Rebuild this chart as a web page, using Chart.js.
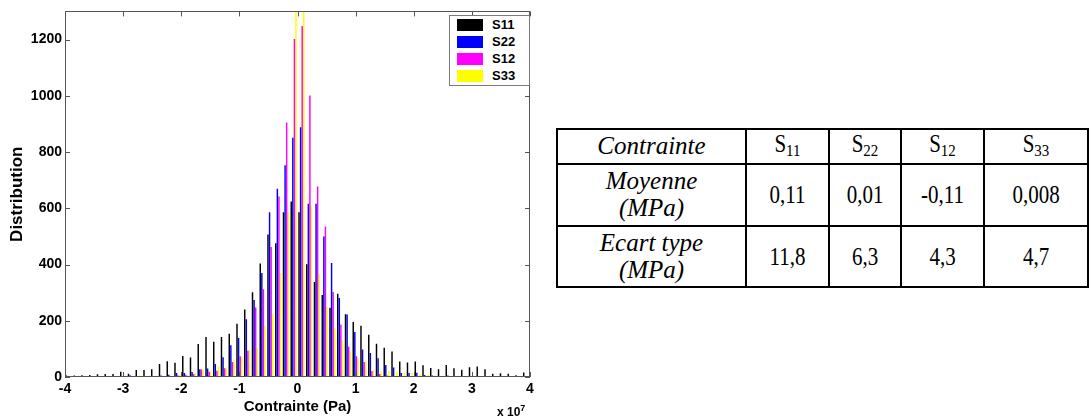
<!DOCTYPE html>
<html>
<head>
<meta charset="utf-8">
<script src="https://cdn.jsdelivr.net/npm/chart.js@4.4.1/dist/chart.umd.min.js"></script>
<style>
  body { margin: 0; background: #fff; width: 1091px; height: 419px; position: relative; overflow: hidden; font-family: "Liberation Sans", Arial, sans-serif; }
  #chart-box { position: absolute; left: 0; top: 0; width: 545px; height: 419px; }
  #legend { position: absolute; left: 449px; top: 15px; width: 81px; height: 71px; border: 1px solid #7a7a7a; background: #fff; box-sizing: border-box; }
  .legend-row { position: absolute; left: 7px; height: 12px; }
  .legend-row .swatch { position: absolute; left: 0; top: 0; width: 26px; height: 12px; }
  .legend-row .label { position: absolute; left: 35px; top: -2px; font: bold 13px "Liberation Sans", Arial, sans-serif; white-space: nowrap; }
  #exponent { position: absolute; left: 497px; top: 403px; font: bold 12px "Liberation Sans", Arial, sans-serif; white-space: nowrap; }
  #exponent sup { font-size: 9px; vertical-align: 5px; }
  #stats { position: absolute; left: 556px; top: 128px; width: 531px; border-collapse: collapse; table-layout: fixed; font-family: "Liberation Serif", "Times New Roman", serif; font-size: 21px; color: #000; }
  #stats td { border: 2px solid #000; text-align: center; padding: 0; line-height: 26px; }
  #stats td i { font-size: 25px; }
  #stats td .num { display: inline-block; transform: scaleY(1.15); }
  #stats sub { font-size: 15px; vertical-align: -4px; }
</style>
</head>
<body>
<div id="chart-box"><canvas id="histChart"></canvas></div>
<div id="legend"></div>
<div id="exponent">x 10<sup>7</sup></div>
<table id="stats">
  <colgroup><col style="width:189px"><col style="width:83px"><col style="width:72px"><col style="width:83px"><col style="width:104px"></colgroup>
</table>
<script>
// bin centres (x 10^7 Pa), 60 bins from -4 to 4
const binCenters = [
  -3.933, -3.800, -3.667, -3.533, -3.400, -3.267, -3.133, -3.000, -2.867, -2.733,
  -2.600, -2.467, -2.333, -2.200, -2.067, -1.933, -1.800, -1.667, -1.533, -1.400,
  -1.267, -1.133, -1.000, -0.867, -0.733, -0.600, -0.467, -0.333, -0.200, -0.067,
   0.067,  0.200,  0.333,  0.467,  0.600,  0.733,  0.867,  1.000,  1.133,  1.267,
   1.400,  1.533,  1.667,  1.800,  1.933,  2.067,  2.200,  2.333,  2.467,  2.600,
   2.733,  2.867,  3.000,  3.133,  3.267,  3.400,  3.533,  3.667,  3.800,  3.933
];

const s11 = [
  5, 5, 6, 7, 10, 11, 11, 19, 12, 25,
  25, 28, 46, 56, 51, 75, 69, 117, 142, 125,
  142, 154, 189, 240, 301, 404, 507, 476, 586, 624,
  586, 401, 338, 292, 246, 296, 223, 196, 182, 150,
  118, 104, 91, 55, 52, 55, 42, 32, 28, 43,
  31, 26, 35, 37, 28, 12, 13, 12, 6, 16
];
const s22 = [
  0, 0, 0, 0, 0, 1, 0, 2, 6, 2,
  3, 4, 5, 8, 14, 14, 18, 28, 30, 46,
  70, 113, 139, 205, 274, 370, 586, 669, 753, 851,
  888, 616, 616, 500, 405, 281, 222, 160, 98, 85,
  67, 43, 34, 14, 14, 15, 7, 5, 3, 5,
  2, 1, 1, 0, 1, 0, 0, 0, 0, 0
];
const s12 = [
  0, 0, 0, 0, 0, 0, 0, 0, 1, 0,
  1, 1, 2, 3, 5, 8, 11, 27, 19, 22,
  31, 53, 74, 93, 247, 312, 462, 642, 905, 1202,
  1248, 1001, 677, 535, 302, 187, 108, 74, 53, 21,
  11, 5, 3, 2, 1, 1, 0, 0, 0, 0,
  0, 0, 0, 0, 0, 0, 0, 0, 0, 0
];
const s33 = [
  0, 0, 0, 0, 0, 0, 0, 1, 0, 1,
  2, 1, 3, 4, 7, 6, 15, 27, 20, 37,
  34, 60, 70, 98, 104, 182, 226, 370, 586, 1450,
  1450, 610, 365, 249, 175, 131, 90, 67, 58, 27,
  19, 22, 19, 13, 13, 10, 8, 5, 3, 2,
  1, 1, 0, 0, 0, 0, 0, 0, 0, 0
];

const seriesNames = ['S11', 'S22', 'S12', 'S33'];
const seriesValues = [s11, s22, s12, s33];
const seriesColors = ['#000000', '#0000ff', '#ff00ff', '#ffff00'];

const xTicks = [-4, -3, -2, -1, 0, 1, 2, 3, 4];
const yTicks = [0, 200, 400, 600, 800, 1000, 1200];

// table on the right
const tableHead = ['Contrainte', ['S', '11'], ['S', '22'], ['S', '12'], ['S', '33']];
const meanRow = ['Moyenne<br>(MPa)', '0,11', '0,01', '-0,11', '0,008'];
const stdRow = ['Ecart type<br>(MPa)', '11,8', '6,3', '4,3', '4,7'];

const tickFont = { family: 'Liberation Sans', weight: 'bold', size: 14 };

const framePlugin = {
  id: 'frame',
  afterDatasetsDraw(chart) {
    const ctx = chart.ctx;
    const a = chart.chartArea;
    const xs = chart.scales.x, ys = chart.scales.y;
    ctx.save();
    ctx.strokeStyle = '#555';
    ctx.lineWidth = 1;
    ctx.strokeRect(Math.round(a.left) + 0.5, Math.round(a.top) + 0.5,
      Math.round(a.right - a.left) - 1, Math.round(a.bottom - a.top) - 1);
    ctx.beginPath();
    xTicks.forEach(v => {
      const px = Math.round(xs.getPixelForValue(v)) + 0.5;
      ctx.moveTo(px, a.bottom); ctx.lineTo(px, a.bottom - 5);
      ctx.moveTo(px, a.top); ctx.lineTo(px, a.top + 5);
    });
    yTicks.forEach(v => {
      const py = Math.round(ys.getPixelForValue(v)) + 0.5;
      ctx.moveTo(a.left, py); ctx.lineTo(a.left + 5, py);
      ctx.moveTo(a.right, py); ctx.lineTo(a.right - 5, py);
    });
    ctx.stroke();
    ctx.restore();
  }
};

const ctx = document.getElementById('histChart').getContext('2d');
const histChart = new Chart(ctx, {
  type: 'bar',
  data: {
    datasets: seriesNames.map((name, i) => ({
      label: name,
      data: binCenters.map((x, k) => ({ x: x, y: seriesValues[i][k] })),
      backgroundColor: seriesColors[i],
      borderWidth: 0,
      categoryPercentage: 0.82,
      barPercentage: 0.92
    }))
  },
  options: {
    responsive: true,
    maintainAspectRatio: false,
    animation: false,
    layout: { padding: { top: 10, right: 15, left: 0, bottom: 0 } },
    plugins: { legend: { display: false }, tooltip: { enabled: false } },
    scales: {
      x: {
        type: 'linear', min: -4, max: 4, offset: false,
        grid: { display: false, drawTicks: false },
        border: { display: false },
        ticks: { stepSize: 1, padding: 4, color: '#000', font: tickFont, maxRotation: 0, autoSkip: false, includeBounds: false,
                 callback: v => String(v) },
        title: { display: true, text: 'Contrainte (Pa)', color: '#000', font: { family: 'Liberation Sans', weight: 'bold', size: 15 }, padding: { top: 0, bottom: 3 } },
        afterFit: s => { s.height = 42; }
      },
      y: {
        min: 0, max: 1300,
        grid: { display: false, drawTicks: false },
        border: { display: false },
        ticks: { stepSize: 200, padding: 3, color: '#000', font: tickFont, includeBounds: false,
                 callback: v => String(v) },
        title: { display: true, text: 'Distribution', color: '#000', font: { family: 'Liberation Sans', weight: 'bold', size: 17 }, padding: { top: 7, bottom: 0 } },
        afterFit: s => { s.width = 65; }
      }
    }
  },
  plugins: [framePlugin]
});

// legend box
const legend = document.getElementById('legend');
seriesNames.forEach((name, i) => {
  const row = document.createElement('div');
  row.classList.add('legend-row');
  row.style.top = (3 + i * 17) + 'px';
  const sw = document.createElement('span');
  sw.classList.add('swatch');
  sw.style.background = seriesColors[i];
  const lb = document.createElement('span');
  lb.classList.add('label');
  lb.textContent = name;
  row.appendChild(sw);
  row.appendChild(lb);
  legend.appendChild(row);
});

// stats table
const table = document.getElementById('stats');
const headTr = document.createElement('tr');
headTr.style.height = '35px';
tableHead.forEach((h, i) => {
  const td = document.createElement('td');
  if (i === 0) td.innerHTML = '<i>' + h + '</i>';
  else td.innerHTML = '<span class="num">' + h[0] + '<sub>' + h[1] + '</sub></span>';
  headTr.appendChild(td);
});
table.appendChild(headTr);
[meanRow, stdRow].forEach((rowData, r) => {
  const tr = document.createElement('tr');
  tr.style.height = (r === 0 ? 62 : 61) + 'px';
  rowData.forEach((v, i) => {
    const td = document.createElement('td');
    td.innerHTML = i === 0 ? '<i>' + v + '</i>' : '<span class="num">' + v + '</span>';
    tr.appendChild(td);
  });
  table.appendChild(tr);
});
</script>
</body>
</html>
